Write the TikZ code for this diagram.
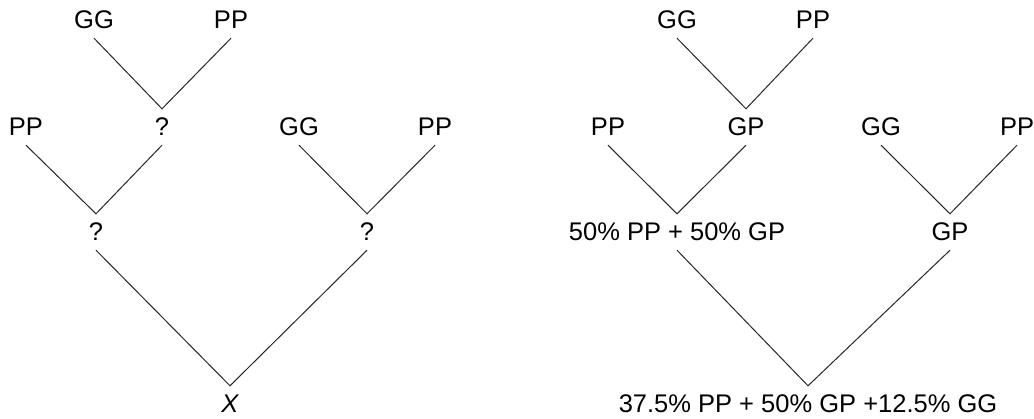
\documentclass[tikz,border=0pt]{standalone}
\usepackage{fontspec}
\setmainfont{Liberation Sans}
\begin{document}
\begin{tikzpicture}[x=1pt,y=-1pt,
  lbl/.style={inner sep=0pt,minimum height=36pt,font=\fontsize{25.5}{30}\selectfont},
  edge/.style={line width=1pt,color=black!85}]
\useasboundingbox (0,0) rectangle (1034,419);
% left tree
\node[lbl] (lgg1) at (94,20) {GG};
\node[lbl] (lpp1) at (231,20) {PP};
\node[lbl] (lq1) at (162,127) {?};
\node[lbl] (lpp2) at (26,127) {PP};
\node[lbl] (lgg2) at (299,127) {GG};
\node[lbl] (lpp3) at (435,127) {PP};
\node[lbl] (lq2) at (96,232) {?};
\node[lbl] (lq3) at (367,232) {?};
\node[lbl] (lx) at (230,404) {\itshape X};
\draw[edge] (lgg1.south) -- (lq1.north) -- (lpp1.south);
\draw[edge] (lpp2.south) -- (lq2.north) -- (lq1.south);
\draw[edge] (lgg2.south) -- (lq3.north) -- (lpp3.south);
\draw[edge] (lq2.south) -- (lx.north) -- (lq3.south);
% right tree
\node[lbl] (rgg1) at (677,20) {GG};
\node[lbl] (rpp1) at (813,20) {PP};
\node[lbl] (rgp1) at (746,127) {GP};
\node[lbl] (rpp2) at (608,127) {PP};
\node[lbl] (rgg2) at (881,127) {GG};
\node[lbl] (rpp3) at (1017,127) {PP};
\node[lbl] (rmix) at (677,232) {50\% PP + 50\% GP};
\node[lbl] (rgp2) at (950,232) {GP};
\node[lbl] (rfin) at (808,404) {37.5\% PP + 50\% GP +12.5\% GG};
\draw[edge] (rgg1.south) -- (rgp1.north) -- (rpp1.south);
\draw[edge] (rpp2.south) -- (rmix.north) -- (rgp1.south);
\draw[edge] (rgg2.south) -- (rgp2.north) -- (rpp3.south);
\draw[edge] (rmix.south) -- (rfin.north) -- (rgp2.south);
\end{tikzpicture}
\end{document}
